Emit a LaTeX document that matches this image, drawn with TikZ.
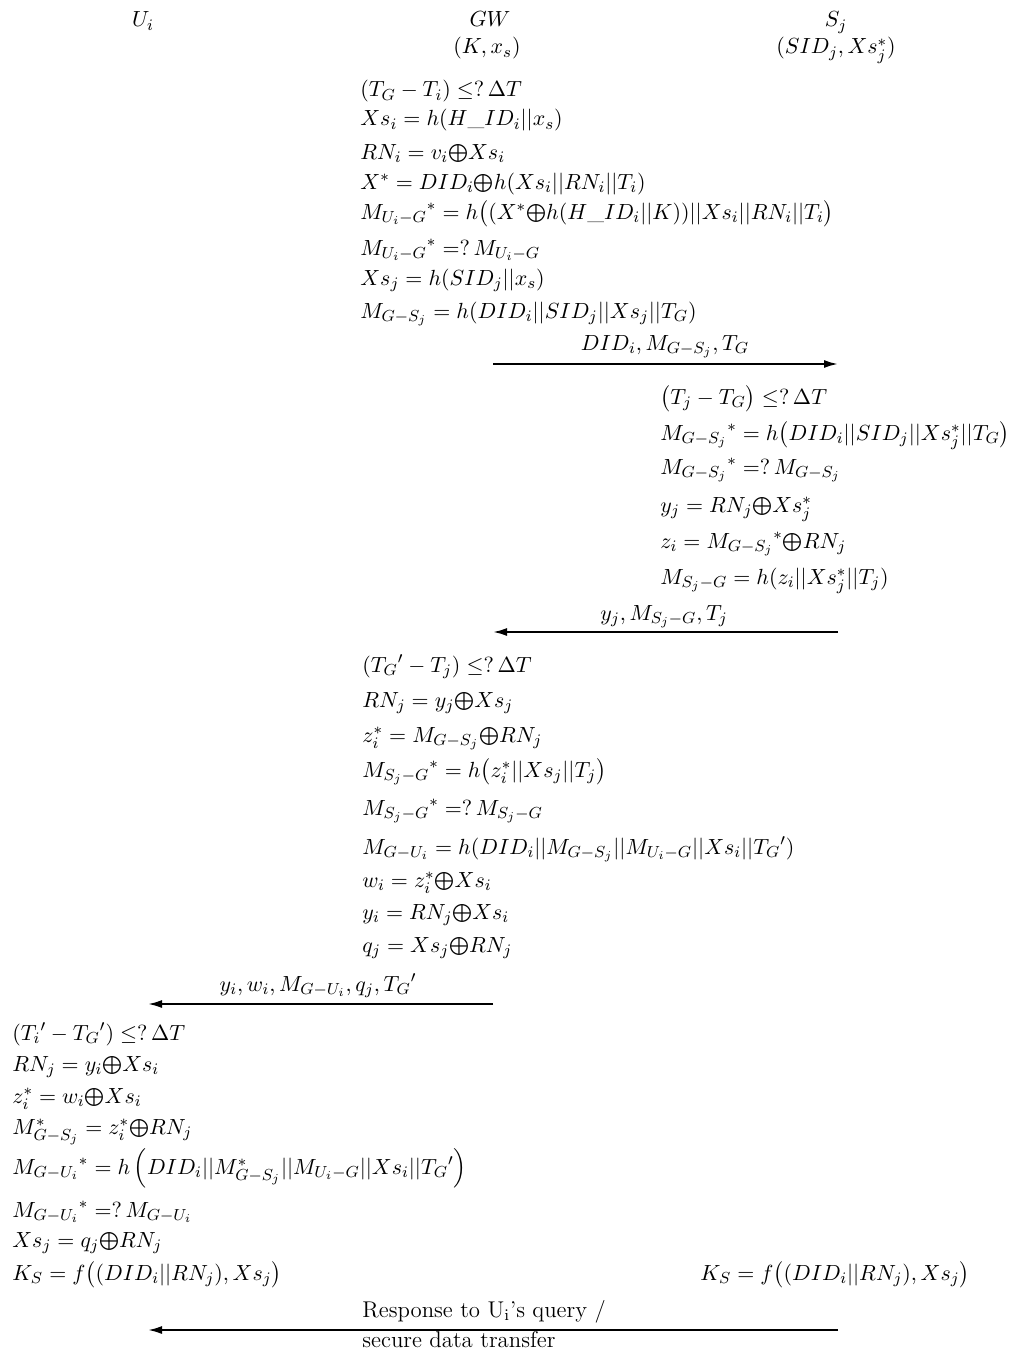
\documentclass[tikz,border=0pt]{standalone}
\usepackage{amsmath}
\usepackage{graphicx}
\usetikzlibrary{arrows.meta}
\newcommand{\xo}{\mathord{\vcenter{\hbox{\scalebox{0.82}{$\bigoplus$}}}}}
\newcommand{\cc}{\mathord{|}\mathord{|}}
\begin{document}
\begin{tikzpicture}[x=0.5pt,y=-0.5pt,
  eq/.style={anchor=base west,inner sep=0pt,font=\fontsize{11.4}{14}\selectfont},
  hd/.style={anchor=base,inner sep=0pt,font=\fontsize{11.4}{14}\selectfont},
  lbl/.style={anchor=base,inner sep=0pt,font=\fontsize{11.4}{14}\selectfont},
  msg/.style={line width=1pt,-{Latex[length=7pt,width=4pt]}}]
\useasboundingbox (0,0) rectangle (1024,1359);
% headers
\node[hd] (hU) at (143,27) {$U_i$};
\node[hd] (hG) at (490,27) {$GW$};
\node[hd] (hGk) at (487,54) {$(K,x_s)$};
\node[hd] (hS) at (836,27) {$S_j$};
\node[hd] (hSk) at (836,54) {$(SID_j,Xs_j^*)$};
% GW block 1
\node[eq] (g1) at (360,97) {$(T_G-T_i)\leq ?\,\Delta T$};
\node[eq] (g2) at (360,126) {$Xs_i=h(H\_ID_i\cc x_s)$};
\node[eq] (g3) at (360,159) {$RN_i=v_i\xo Xs_i$};
\node[eq] (g4) at (360,189) {$X^*=DID_i\xo h(Xs_i\cc RN_i\cc T_i)$};
\node[eq] (g5) at (360,219) {${M_{U_i-G}}^*=h\big((X^*\xo h(H\_ID_i\cc K))\cc Xs_i\cc RN_i\cc T_i\big)$};
\node[eq] (g6) at (360,255) {${M_{U_i-G}}^*=?\,M_{U_i-G}$};
\node[eq] (g7) at (360,285) {$Xs_j=h(SID_j\cc x_s)$};
\node[eq] (g8) at (360,318) {$M_{G-S_j}=h(DID_i\cc SID_j\cc Xs_j\cc T_G)$};
\node[lbl] (l1) at (665,350) {$DID_i,M_{G-S_j},T_G$};
\coordinate (a1s) at (493,364);
\coordinate (a1e) at (838,364);
\draw[msg] (a1s) -- (a1e);
% Sj block
\node[eq] (s1) at (660,404) {$\big(T_j-T_G\big)\leq ?\,\Delta T$};
\node[eq] (s2) at (660,440) {${M_{G-S_j}}^*=h\big(DID_i\cc SID_j\cc Xs_j^*\cc T_G\big)$};
\node[eq] (s3) at (660,474) {${M_{G-S_j}}^*=?\,M_{G-S_j}$};
\node[eq] (s4) at (660,512) {$y_j=RN_j\xo Xs_j^*$};
\node[eq] (s5) at (660,548) {$z_i={M_{G-S_j}}^*\xo RN_j$};
\node[eq] (s6) at (660,584) {$M_{S_j-G}=h(z_i\cc Xs_j^*\cc T_j)$};
\node[lbl] (l2) at (664,620) {$y_j,M_{S_j-G},T_j$};
\coordinate (a2s) at (838,632);
\coordinate (a2e) at (493,632);
\draw[msg] (a2s) -- (a2e);
% GW block 2
\node[eq] (h1) at (362,672) {$({T_G}'-T_j)\leq ?\,\Delta T$};
\node[eq] (h2) at (362,707) {$RN_j=y_j\xo Xs_j$};
\node[eq] (h3) at (362,742) {$z_i^*=M_{G-S_j}\xo RN_j$};
\node[eq] (h4) at (362,777) {${M_{S_j-G}}^*=h\big(z_i^*\cc Xs_j\cc T_j\big)$};
\node[eq] (h5) at (362,815) {${M_{S_j-G}}^*=?\,M_{S_j-G}$};
\node[eq] (h6) at (362,854) {$M_{G-U_i}=h(DID_i\cc M_{G-S_j}\cc M_{U_i-G}\cc Xs_i\cc {T_G}')$};
\node[eq] (h7) at (362,887) {$w_i=z_i^*\xo Xs_i$};
\node[eq] (h8) at (362,919) {$y_i=RN_j\xo Xs_i$};
\node[eq] (h9) at (362,952) {$q_j=Xs_j\xo RN_j$};
\node[lbl] (l3) at (318,991) {$y_i,w_i,M_{G-U_i},q_j,{T_G}'$};
\coordinate (a3s) at (493,1004);
\coordinate (a3e) at (148,1004);
\draw[msg] (a3s) -- (a3e);
% Ui block
\node[eq] (u1) at (12,1040) {$({T_i}'-{T_G}')\leq ?\,\Delta T$};
\node[eq] (u2) at (12,1071) {$RN_j=y_i\xo Xs_i$};
\node[eq] (u3) at (12,1103) {$z_i^*=w_i\xo Xs_i$};
\node[eq] (u4) at (12,1134) {$M^*_{G-S_j}=z_i^*\xo RN_j$};
\node[eq] (u5) at (12,1174) {${M_{G-U_i}}^*=h\,\Big(DID_i\cc M^*_{G-S_j}\cc M_{U_i-G}\cc Xs_i\cc {T_G}'\Big)$};
\node[eq] (u6) at (12,1217) {${M_{G-U_i}}^*=?\,M_{G-U_i}$};
\node[eq] (u7) at (12,1247) {$Xs_j=q_j\xo RN_j$};
\node[eq] (u8) at (12,1280) {$K_S=f\big((DID_i\cc RN_j),Xs_j\big)$};
\node[eq] (s7) at (700,1280) {$K_S=f\big((DID_i\cc RN_j),Xs_j\big)$};
% final message
\node[eq] (r1) at (362,1317) {Response to U$_\mathrm{i}$’s query /};
\node[eq] (r2) at (362,1347) {secure data transfer};
\coordinate (a4s) at (838,1330);
\coordinate (a4e) at (148,1330);
\draw[msg] (a4s) -- (a4e);
\end{tikzpicture}
\end{document}
